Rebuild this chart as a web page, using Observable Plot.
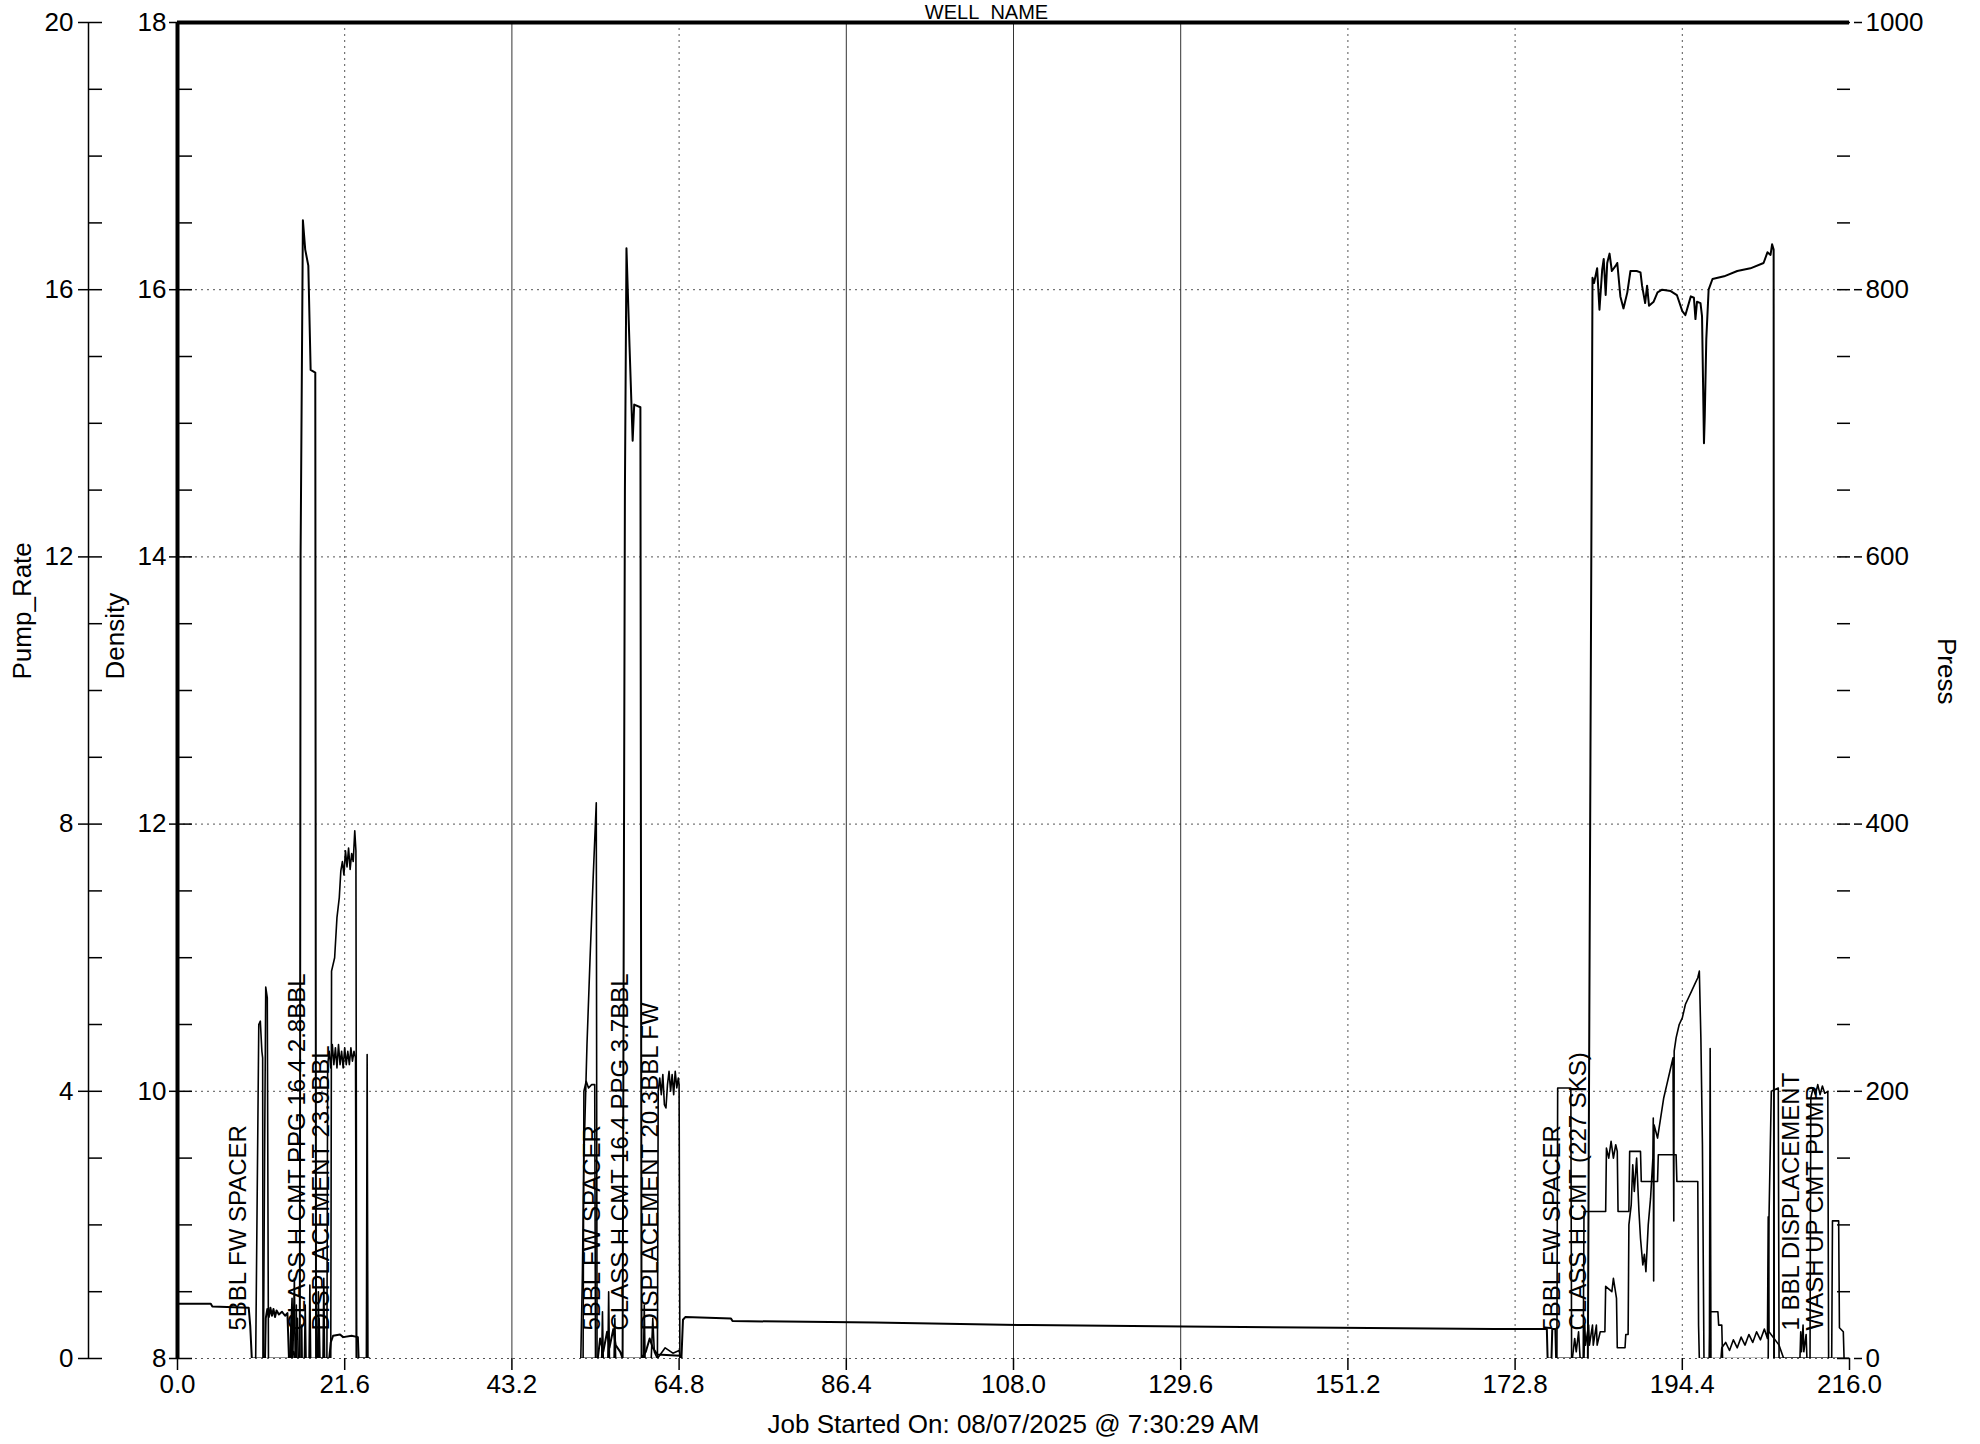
<!DOCTYPE html>
<html>
<head>
<meta charset="utf-8">
<script src="https://cdn.jsdelivr.net/npm/d3@7"></script>
<script src="https://cdn.jsdelivr.net/npm/@observablehq/plot@0.6"></script>
<style>
html, body { margin: 0; padding: 0; background: #fff; }
#chart svg { display: block; }
</style>
</head>
<body>
<div id="chart"></div>
<script>
// ---------- text ----------
const title = "WELL_NAME";
const caption = "Job Started On: 08/07/2025 @ 7:30:29 AM";
const axisTitles = ["Pump_Rate", "Density", "Press"];

// ---------- ticks ----------
const timeTicks = [0, 21.6, 43.2, 64.8, 86.4, 108.0, 129.6, 151.2, 172.8, 194.4, 216.0];
const dottedGridTimes = [21.6, 64.8, 151.2, 172.8, 194.4];
const solidGridTimes = [43.2, 86.4, 108.0, 129.6];
const densityTicks = [8, 10, 12, 14, 16, 18];
const densityMinor = [8, 8.5, 9, 9.5, 10, 10.5, 11, 11.5, 12, 12.5, 13, 13.5, 14, 14.5, 15, 15.5, 16, 16.5, 17, 17.5, 18];
const rateTicks = [0, 4, 8, 12, 16, 20];
const rateMinor = [0, 1, 2, 3, 4, 5, 6, 7, 8, 9, 10, 11, 12, 13, 14, 15, 16, 17, 18, 19, 20];
const pressTicks = [0, 200, 400, 600, 800, 1000];
const pressMinor = [0, 50, 100, 150, 200, 250, 300, 350, 400, 450, 500, 550, 600, 650, 700, 750, 800, 850, 900, 950, 1000];

// ---------- event labels [time, text] ----------
const events = [
  [7.9, "5BBL FW SPACER"],
  [15.5, "CLASS H CMT PPG 16.4 2.8BBL"],
  [18.6, "DISPLACEMENT 23.9BBL"],
  [53.6, "5BBL FW SPACER"],
  [57.2, "CLASS H CMT 16.4 PPG 3.7BBL"],
  [61.1, "DISPLACEMENT 20.3BBL FW"],
  [177.6, "5BBL FW SPACER"],
  [181.0, "CLASS H CMT (227 SKS)"],
  [208.5, "1 BBL DISPLACEMENT"],
  [211.6, "WASH UP CMT PUMP"]
];

// ---------- series: [time (min), value] ----------
// Density (ppg)
const density = [
  [0, 8.41], [4.3, 8.41], [4.5, 8.39], [9.2, 8.38], [9.4, 8.24], [9.6, 8.0], [11.3, 8.0],
  [11.4, 8.30], [11.6, 8.37], [11.8, 8.31], [12.0, 8.38], [12.2, 8.32], [12.4, 8.37], [12.6, 8.31],
  [12.8, 8.36], [13.1, 8.33], [13.5, 8.35], [13.9, 8.32], [14.2, 8.34], [14.4, 8.0], [15.0, 8.05],
  [15.2, 8.0], [15.8, 8.0], [15.9, 14.0], [16.2, 16.52], [16.5, 16.3], [16.9, 16.18], [17.2, 15.4],
  [17.8, 15.38], [17.9, 8.0], [19.6, 8.0], [19.8, 8.12], [20.1, 8.17], [21.0, 8.18], [21.4, 8.16],
  [22.5, 8.17], [23.3, 8.16], [23.4, 8.0], [24.8, 8.0], [24.9, null],
  [52.0, null], [52.1, 8.0], [54.3, 8.0], [54.6, 8.15], [55.0, 8.05], [55.5, 8.2], [55.8, 8.08],
  [56.3, 8.22], [56.6, 8.1], [57.2, 8.05], [57.5, 8.0], [57.8, 14.5], [58.0, 16.31], [58.4, 15.57],
  [58.8, 14.87], [59.0, 15.14], [59.8, 15.12], [59.95, 8.0], [60.5, 8.05], [61.0, 8.15], [61.4, 8.08],
  [62.0, 8.03], [64.9, 8.02], [65.1, 8.0], [65.3, 8.29], [65.6, 8.31], [71.5, 8.30], [71.7, 8.28],
  [90, 8.27], [110, 8.25], [130, 8.24], [150, 8.23], [170, 8.22], [176.9, 8.22], [177.0, 8.0],
  [177.5, 8.0], [177.6, 8.22], [178.0, 8.22], [178.1, 8.0], [182.2, 8.0],
  [182.8, 16.09], [183.0, 16.05], [183.4, 16.16], [183.7, 15.85], [184.05, 16.15], [184.25, 16.23],
  [184.5, 15.96], [184.7, 16.20], [185.0, 16.27], [185.3, 16.14], [185.8, 16.18], [186.0, 16.20],
  [186.4, 15.95], [186.8, 15.86], [187.3, 15.98], [187.7, 16.14], [188.5, 16.14], [189.0, 16.13],
  [189.2, 16.03], [189.6, 15.90], [189.85, 16.03], [190.1, 15.88], [190.7, 15.91], [191.2, 15.98],
  [191.8, 16.00], [192.9, 15.99], [193.7, 15.96], [194.4, 15.84], [194.8, 15.81], [195.5, 15.95],
  [195.9, 15.94], [196.1, 15.78], [196.3, 15.91], [196.75, 15.90], [196.95, 15.80], [197.2, 14.85],
  [197.3, 15.05], [197.5, 15.63], [197.8, 16.00], [198.3, 16.08], [199.8, 16.10], [201.5, 16.14],
  [203.2, 16.16], [204.9, 16.20], [205.4, 16.28], [205.8, 16.26], [206.0, 16.34], [206.2, 16.30],
  [206.25, 8.0], [216, 8.0]
];

// Pump rate (bpm)
const pumpRate = [
  [9.9, 0], [10.1, 0], [10.3, 2.5], [10.5, 5.0], [10.7, 5.05], [10.9, 4.6], [11.0, 4.5], [11.05, 0],
  [14.6, 0], [14.7, 0.6], [14.8, 0], [15.3, 0], [15.35, 0.8], [15.4, 0], [16.0, 0], [16.05, 0.5], [16.1, 0],
  [18.2, 0], [18.3, 0.6], [18.4, 0], [19.3, 0], [19.4, 4.4], [19.6, 4.6], [19.8, 4.35], [20.0, 4.7],
  [20.2, 4.4], [20.4, 4.65], [20.6, 4.35], [20.8, 4.7], [21.0, 4.4], [21.2, 4.6], [21.4, 4.35],
  [21.6, 4.65], [21.8, 4.4], [22.0, 4.6], [22.2, 4.4], [22.4, 4.65], [22.6, 4.45], [22.8, 4.6],
  [23.0, 4.5], [23.1, 0], [24.4, 0], [24.5, 4.55], [24.6, 0], [24.8, 0], [24.9, null],
  [52.3, null], [52.4, 0], [52.5, 4.0], [52.8, 4.15], [53.1, 4.05], [53.5, 4.1], [53.9, 4.1], [54.0, 0],
  [62.0, 0], [62.1, 4.0], [62.3, 4.2], [62.5, 3.95], [62.7, 4.25], [62.9, 3.8], [63.1, 3.75],
  [63.3, 4.1], [63.5, 4.3], [63.7, 4.0], [63.9, 4.25], [64.1, 3.95], [64.3, 4.3], [64.5, 4.05],
  [64.7, 4.2], [64.8, 4.1], [64.9, 0], [65.2, 0], [65.3, null],
  [178.1, null], [178.2, 0], [178.3, 4.05], [180.0, 4.05], [180.1, 0], [181.6, 0], [181.7, 2.2],
  [184.5, 2.2], [184.6, 3.15], [184.9, 3.0], [185.2, 3.25], [185.5, 3.0], [185.8, 3.2], [186.0, 3.1],
  [186.1, 2.2], [187.5, 2.2], [187.6, 3.1], [189.0, 3.1], [189.1, 2.65], [191.2, 2.65], [191.3, 3.05],
  [193.6, 3.05], [193.7, 2.65], [196.4, 2.65], [196.5, 0.5], [196.6, 0], [197.9, 0], [198.0, 0.7],
  [199.0, 0.7], [199.1, 0.5], [199.5, 0.5], [199.6, 0], [205.5, 0], [205.6, 2.1], [205.9, 4.0],
  [206.8, 4.05], [206.9, 0], [210.9, 0], [211.0, 3.9], [211.3, 4.05], [211.6, 3.95], [211.9, 4.1],
  [212.2, 3.95], [212.5, 4.08], [212.8, 3.97], [213.2, 4.0], [213.3, 0], [213.7, 0]
];

// Pressure (psi)
const press = [
  [11.1, 0], [11.25, 150], [11.4, 278], [11.6, 270], [11.75, 0], [14.5, 0], [14.8, 45], [14.9, 0],
  [15.1, 60], [15.2, 0], [15.5, 30], [15.6, 0], [16.4, 0], [16.5, 40], [16.6, 0], [17.0, 0],
  [17.1, 55], [17.2, 0], [18.1, 0], [18.2, 50], [18.3, 0], [18.8, 0], [18.9, 60], [19.0, 0],
  [19.8, 0], [19.9, 290], [20.3, 300], [20.6, 330], [20.9, 345], [21.1, 365], [21.3, 372],
  [21.5, 362], [21.7, 380], [21.9, 368], [22.1, 382], [22.3, 366], [22.5, 378], [22.7, 372],
  [22.9, 395], [23.05, 380], [23.15, 0], [24.8, 0], [24.9, null],
  [52.0, null], [52.1, 0], [52.3, 60], [52.5, 150], [52.9, 235], [53.3, 300], [53.7, 360],
  [54.1, 416], [54.2, 0], [54.8, 0], [54.9, 35], [55.0, 0], [55.6, 0], [55.7, 50], [55.8, 0],
  [56.4, 0], [56.5, 30], [56.6, 0], [60.2, 0], [60.3, 40], [60.4, 0], [61.2, 0], [61.4, 30],
  [61.6, 5], [62.0, 0], [63.0, 8], [64.0, 4], [64.8, 6], [65.0, 0], [65.2, 0], [65.3, null],
  [180.1, null], [180.2, 0], [180.5, 15], [180.7, 5], [181.0, 20], [181.2, 0], [181.7, 0],
  [181.8, 25], [181.9, 10], [182.3, 25], [182.4, 10], [182.8, 25], [182.9, 10], [183.3, 25],
  [183.4, 10], [183.8, 20], [184.4, 20], [184.5, 54], [185.3, 50], [185.5, 60], [185.9, 45],
  [186.0, 8], [187.0, 8], [187.1, 18], [187.4, 18], [187.5, 100], [187.8, 115], [188.0, 145],
  [188.2, 125], [188.5, 150], [188.8, 110], [189.0, 90], [189.3, 70], [189.5, 78], [189.7, 65],
  [190.0, 100], [190.3, 120], [190.6, 150], [190.65, 180], [190.7, 58], [190.75, 175], [191.2, 165],
  [191.6, 180], [192.0, 195], [192.4, 205], [192.8, 215], [193.2, 225], [193.3, 103], [193.35, 230],
  [193.6, 240], [194.0, 250], [194.4, 255], [194.8, 265], [195.2, 270], [195.6, 275], [196.0, 280],
  [196.4, 285], [196.6, 290], [196.8, 240], [197.0, 160], [197.2, 0], [197.9, 0], [198.0, 232],
  [198.1, 0], [199.4, 0], [199.5, 8], [200.0, 12], [200.5, 6], [201.0, 14], [201.5, 8], [202.0, 16],
  [202.5, 10], [203.0, 18], [203.5, 12], [204.0, 20], [204.5, 14], [205.0, 22], [205.4, 15],
  [205.5, 106], [205.6, 20], [206.9, 10], [207.5, 0], [209.6, 0], [209.7, 20], [209.8, 5],
  [210.0, 25], [210.1, 5], [210.4, 18], [210.5, 0], [213.7, 0], [213.8, 103], [214.6, 103],
  [214.7, 23], [215.2, 20], [215.3, 0]
];

// ---------- map secondary units onto the density scale ----------
const rateToY = r => 8 + r * 10 / 20;
const pressToY = p => 8 + p * 10 / 1000;
const asY = (rows, f) => rows.map(([t, v]) => ({t, y: v == null ? NaN : f(v)}));

const densityRows = asY(density, v => v);
const rateRows = asY(pumpRate, rateToY);
const pressRows = asY(press, pressToY);

const dotted = {stroke: "#555", strokeWidth: 1, strokeDasharray: "2,4"};
const lineStyle = {x: "t", y: "y", stroke: "black", strokeWidth: 1.6, clip: true, curve: "linear"};

const chart = Plot.plot({
  width: 1980,
  height: 1444,
  marginLeft: 177,
  marginRight: 131,
  marginTop: 22,
  marginBottom: 86,
  x: {domain: [0, 216], axis: null},
  y: {domain: [8, 18], axis: null},
  style: {fontFamily: "'Liberation Sans', Arial, sans-serif", fontSize: "26px", color: "black", background: "white"},
  marks: [
    // grid
    Plot.ruleY(densityTicks.slice(0, -1), dotted),
    Plot.ruleX(dottedGridTimes, dotted),
    Plot.ruleX(solidGridTimes, {stroke: "#333", strokeWidth: 1}),
    // frame pieces (thick top + density axis line), pump rate axis line
    Plot.ruleY([18], {stroke: "black", strokeWidth: 4}),
    Plot.ruleX([0], {stroke: "black", strokeWidth: 4}),
    Plot.ruleX([0], {stroke: "black", strokeWidth: 1.5, dx: -89}),

    // data
    Plot.line(pressRows, lineStyle),
    Plot.line(rateRows, lineStyle),
    Plot.line(densityRows, {...lineStyle, strokeWidth: 2}),

    // event labels
    Plot.text(events, {x: d => d[0], text: d => d[1], frameAnchor: "bottom", dy: -28, rotate: -90,
      textAnchor: "start", lineAnchor: "middle", fontSize: 24, fill: "black"}),

    // x axis
    Plot.axisX(timeTicks, {anchor: "bottom", tickSize: 12, tickPadding: 4, strokeWidth: 1.5,
      tickFormat: d3.format(".1f"), label: null, fontSize: 26}),

    // density axis (labels + outward ticks, inward minor ticks)
    Plot.axisY(densityTicks, {anchor: "left", tickSize: 8, tickPadding: 3, strokeWidth: 1.5,
      tickFormat: d => String(d), label: null, fontSize: 26}),
    Plot.axisY(densityMinor, {anchor: "left", tickSize: 15, dx: 15, strokeWidth: 1.5, fill: "none", label: null}),

    // pump rate axis
    Plot.axisY(rateTicks.map(rateToY), {anchor: "left", dx: -89, tickSize: 10, tickPadding: 5, strokeWidth: 1.5,
      tickFormat: d => String(Math.round((d - 8) * 2)), label: null, fontSize: 26}),
    Plot.axisY(rateMinor.map(rateToY), {anchor: "left", dx: -89 + 14, tickSize: 14, strokeWidth: 1.5, fill: "none", label: null}),

    // press axis (right)
    Plot.axisY(pressTicks.map(pressToY), {anchor: "right", dx: 4, tickSize: 8, tickPadding: 4, strokeWidth: 1.5,
      tickFormat: d => String(Math.round((d - 8) * 100)), label: null, fontSize: 26}),
    Plot.axisY(pressMinor.map(pressToY), {anchor: "right", dx: -13, tickSize: 13, strokeWidth: 1.5, fill: "none", label: null}),

    // titles
    Plot.text([title], {text: d => d, frameAnchor: "top", dx: -27, dy: -4, lineAnchor: "bottom", fontSize: 20}),
    Plot.text([axisTitles[0]], {text: d => d, frameAnchor: "left", dx: -155, dy: -11, rotate: -90, fontSize: 26}),
    Plot.text([axisTitles[1]], {text: d => d, frameAnchor: "left", dx: -62, dy: -11, rotate: -90, fontSize: 26}),
    Plot.text([axisTitles[2]], {text: d => d, frameAnchor: "right", dx: 97, dy: 14, rotate: 90, fontSize: 26}),
    Plot.text([caption], {text: d => d, frameAnchor: "bottom", dy: 74, fontSize: 26})
  ]
});

document.getElementById("chart").append(chart);
</script>
</body>
</html>
